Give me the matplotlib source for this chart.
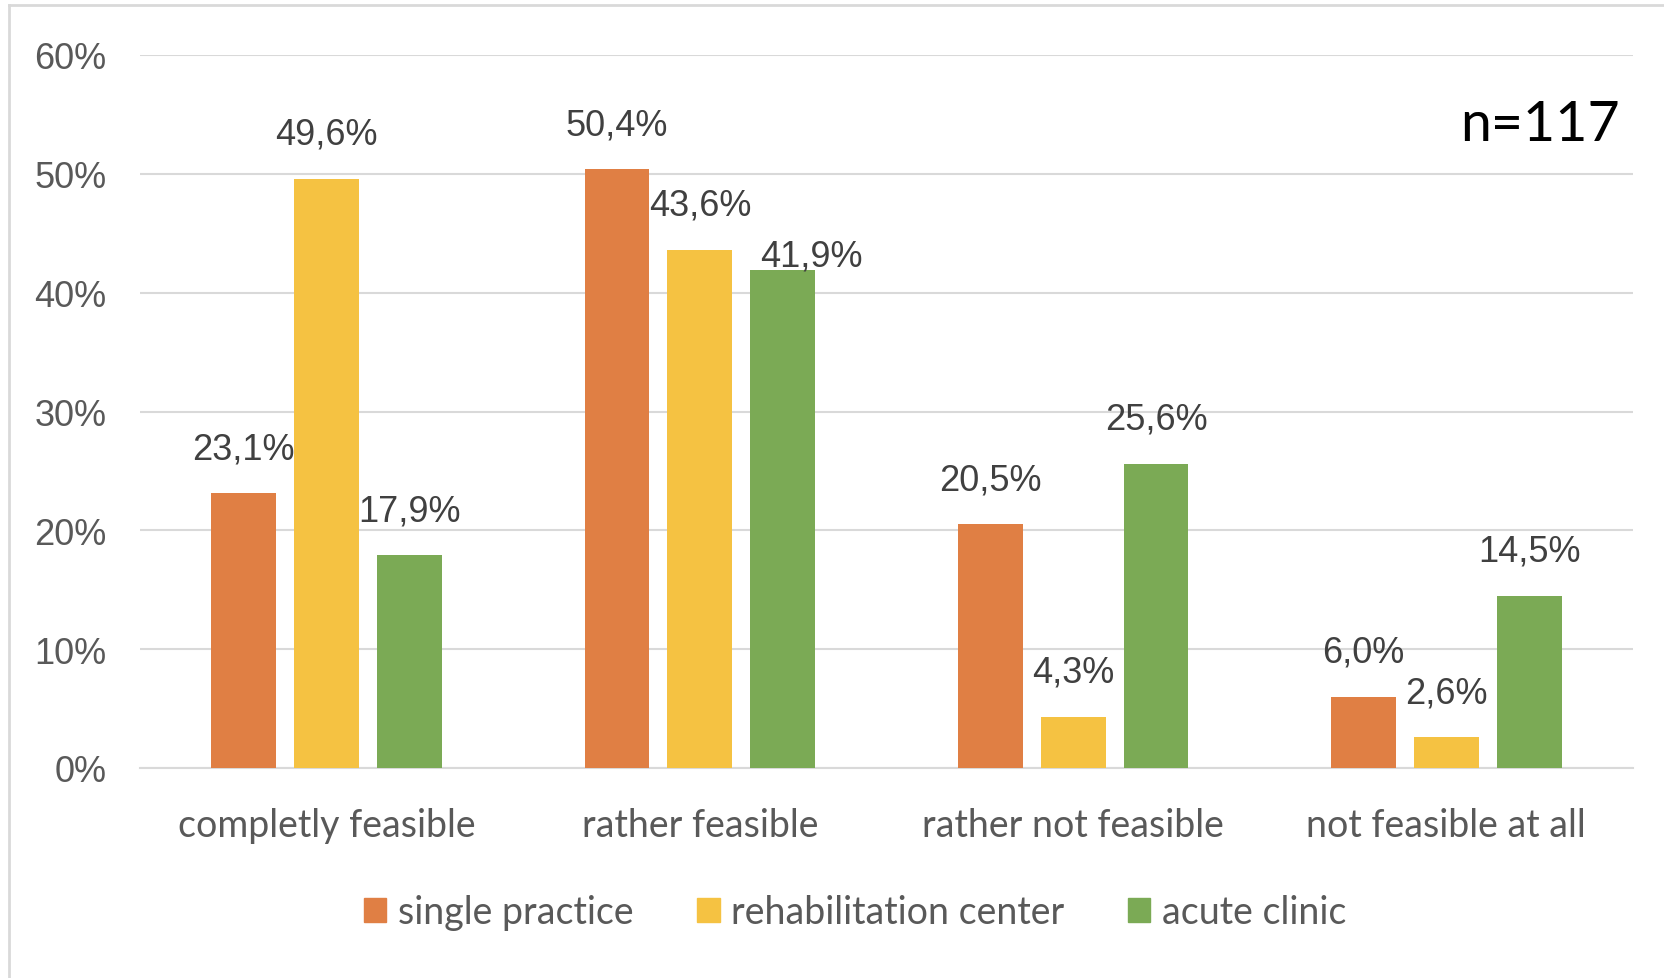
import numpy as np
import matplotlib
matplotlib.use("Agg")
import matplotlib.pyplot as plt
from matplotlib.lines import Line2D

categories = ["completly feasible", "rather feasible", "rather not feasible", "not feasible at all"]
series = ["single practice", "rehabilitation center", "acute clinic"]
single_practice = [23.1, 50.4, 20.5, 6.0]
rehab_center = [49.6, 43.6, 4.3, 2.6]
acute_clinic = [17.9, 41.9, 25.6, 14.5]
yticks = [0, 10, 20, 30, 40, 50, 60]
sample_note = "n=117"

colors = ["#E07F44", "#F5C242", "#7BAA55"]
values = [single_practice, rehab_center, acute_clinic]

W, H, DPI = 1665, 979, 100
fig = plt.figure(figsize=(W / DPI, H / DPI), dpi=DPI)
ax = fig.add_axes([140 / W, 1 - 769 / H, (1633 - 140) / W, (769 - 56) / H])

x = np.arange(len(categories))
bw = 0.174
step = 0.222

# labels that would collide get pushed aside (pixels right, pixels up)
nudge = {(2, 1): (29, -30)}

for i, (name, vals, c) in enumerate(zip(series, values, colors)):
    pos = x + (i - 1) * step
    ax.bar(pos, vals, width=bw, color=c, label=name, zorder=3)
    for j, (p, v) in enumerate(zip(pos, vals)):
        dx, dy = nudge.get((i, j), (0, 0))
        ax.annotate(f"{v:.1f}%".replace(".", ","), (p, v),
                    xytext=(dx * 0.72, (35 + dy) * 0.72), textcoords="offset points",
                    ha="center", va="baseline", fontsize=26,
                    family="Liberation Sans", color="#404040", zorder=4)

ax.set_xlim(-0.5, len(categories) - 0.5)
ax.set_ylim(0, 60)
ax.set_yticks(yticks)
ax.set_yticklabels([f"{t}%" for t in yticks], family="Liberation Sans",
                   fontsize=26, color="#595959")
ax.set_xticks(x)
ax.set_xticklabels(categories, family="Lato", fontsize=27, color="#595959")
ax.tick_params(axis="y", length=0, pad=24)
ax.tick_params(axis="x", length=0, pad=28)
ax.grid(axis="y", color="#D9D9D9", linewidth=1.5, zorder=0)
ax.set_axisbelow(True)
for s in ["top", "right", "left"]:
    ax.spines[s].set_visible(False)
ax.spines["bottom"].set_color("#D9D9D9")
ax.spines["bottom"].set_linewidth(1.5)

ax.text(0.991, 0.903, sample_note, transform=ax.transAxes, ha="right", va="center",
        fontsize=40, family="Lato", color="black")

handles = [plt.Rectangle((0, 0), 1, 1, color=c) for c in colors]
fig.legend(handles, series, loc="center", bbox_to_anchor=(855 / W, 1 - 913 / H),
           ncol=3, frameon=False, prop={"family": "Lato", "size": 27},
           labelcolor="#595959", handlelength=0.6, handleheight=0.6,
           handletextpad=0.3, columnspacing=1.7)

# light frame on left and top edges
fig.add_artist(Line2D([9 / W, 9 / W], [0, 1 - 6 / H], transform=fig.transFigure,
                      color="#D9D9D9", linewidth=2))
fig.add_artist(Line2D([9 / W, 1], [1 - 6 / H, 1 - 6 / H], transform=fig.transFigure,
                      color="#D9D9D9", linewidth=2))

fig.savefig("out.png", dpi=DPI, facecolor="white")
